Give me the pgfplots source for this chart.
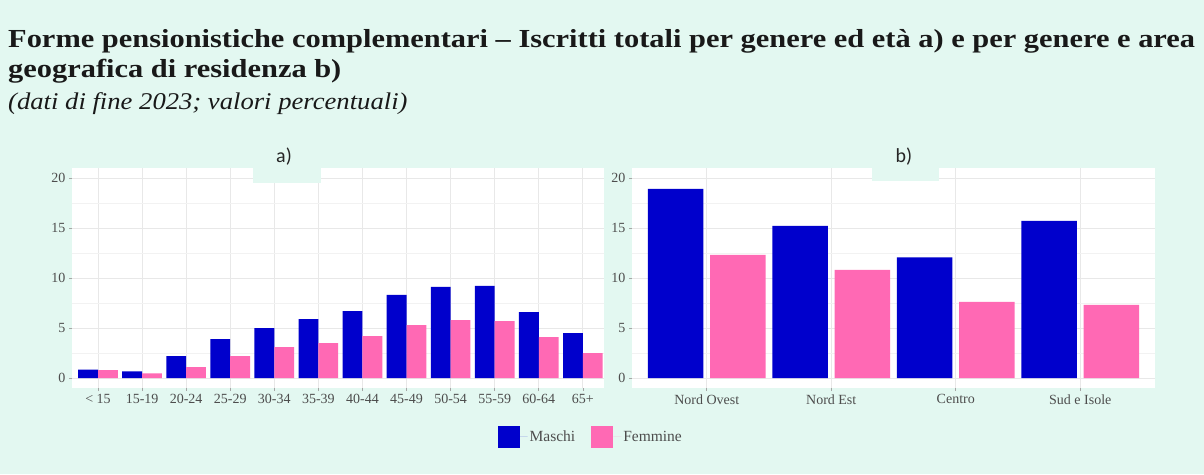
\documentclass[border=0pt]{standalone}
\usepackage{fontspec}
\setmainfont{Liberation Serif}
\newfontfamily\carlito{Carlito}
\usepackage{graphicx}
\usepackage{pgfplots}
\pgfplotsset{compat=1.18}
\definecolor{bgc}{HTML}{E3F8F1}
\definecolor{mblue}{HTML}{0000CC}
\definecolor{fpink}{HTML}{FF69B4}
\definecolor{tickc}{HTML}{4D4D4D}
\begin{document}
\begin{tikzpicture}[x=1pt,y=1pt]
\fill[bgc] (0,0) rectangle (1204,474);
\node[anchor=base west,inner sep=0pt,text=black!90] at (8,426) {\scalebox{1.17}[1]{\fontsize{26}{30}\selectfont\bfseries Forme pensionistiche complementari -- Iscritti totali per genere ed età a) e per genere e area}};
\node[anchor=base west,inner sep=0pt,text=black!90] at (8,396) {\scalebox{1.17}[1]{\fontsize{26}{30}\selectfont\bfseries geografica di residenza b)}};
\node[anchor=base west,inner sep=0pt,text=black!90] at (8,364) {\scalebox{1.11}[1]{\fontsize{24}{28}\selectfont\itshape (dati di fine 2023; valori percentuali)}};
\pgfplotsset{
  panel/.style={
    scale only axis, anchor=south west,
    height=220pt, ymin=-1, ymax=21,
    ytick={0,5,10,15,20}, minor ytick={2.5,7.5,12.5,17.5},
    ymajorgrids, yminorgrids, xmajorgrids,
    axis background/.style={fill=white},
    axis line style={draw=none},
    major grid style={color=black!9, line width=0.9pt},
    minor grid style={color=black!5, line width=0.6pt},
    tick align=outside, major tick length=3pt, minor tick length=0pt,
    tick style={color=black!35, line width=0.6pt},
    xtick pos=bottom, ytick pos=left,
    ticklabel style={font=\fontsize{14}{16}\selectfont, text=tickc},
    /pgf/number format/assume math mode=true,
    ybar,
  },
}
\begin{axis}[panel, at={(72pt,86pt)}, width=532pt,
  xmin=-0.59, xmax=11.48, bar width=0.45,
  xtick={0,...,11},
  xticklabels={{< 15},15-19,20-24,25-29,30-34,35-39,40-44,45-49,50-54,55-59,60-64,65+},
  legend columns=2,
  legend style={at={(0.975,-0.2227)}, anchor=center, draw=none, fill=none,
    font=\fontsize{15.5}{17}\selectfont, text=tickc,
    /tikz/every even column/.append style={column sep=14pt}},
  legend image code/.code={\fill[#1] (0pt,-11pt) rectangle (22pt,11pt); \path (22pt,0pt) -- (30pt,0pt);},
]
\addplot[fill=mblue, draw=none, bar shift=-0.225] coordinates {
(0,0.83) (1,0.67) (2,2.2) (3,3.9) (4,5.0) (5,5.9) (6,6.7) (7,8.3) (8,9.1) (9,9.2) (10,6.6) (11,4.5)};
\addplot[fill=fpink, draw=none, bar shift=0.225] coordinates {
(0,0.8) (1,0.47) (2,1.1) (3,2.2) (4,3.1) (5,3.5) (6,4.2) (7,5.3) (8,5.8) (9,5.7) (10,4.1) (11,2.5)};
\legend{Maschi,Femmine}
\end{axis}
\begin{axis}[panel, at={(632pt,86pt)}, width=523pt,
  xmin=-0.6, xmax=3.6, bar width=0.445,
  xtick={0,...,3},
  xticklabels={Nord Ovest,Nord Est,Centro,Sud e Isole},
]
\addplot[fill=mblue, draw=none, bar shift=-0.25] coordinates {
(0,18.9) (1,15.2) (2,12.05) (3,15.7)};
\addplot[fill=fpink, draw=none, bar shift=0.25] coordinates {
(0,12.3) (1,10.8) (2,7.6) (3,7.3)};
\end{axis}
\fill[bgc] (253,291) rectangle (321,330);
\fill[bgc] (872,293) rectangle (939,330);
\node[text=black!85] at (284,317) {\carlito\fontsize{20}{24}\selectfont a)};
\node[text=black!85] at (904,317) {\carlito\fontsize{20}{24}\selectfont b)};
\end{tikzpicture}
\end{document}
